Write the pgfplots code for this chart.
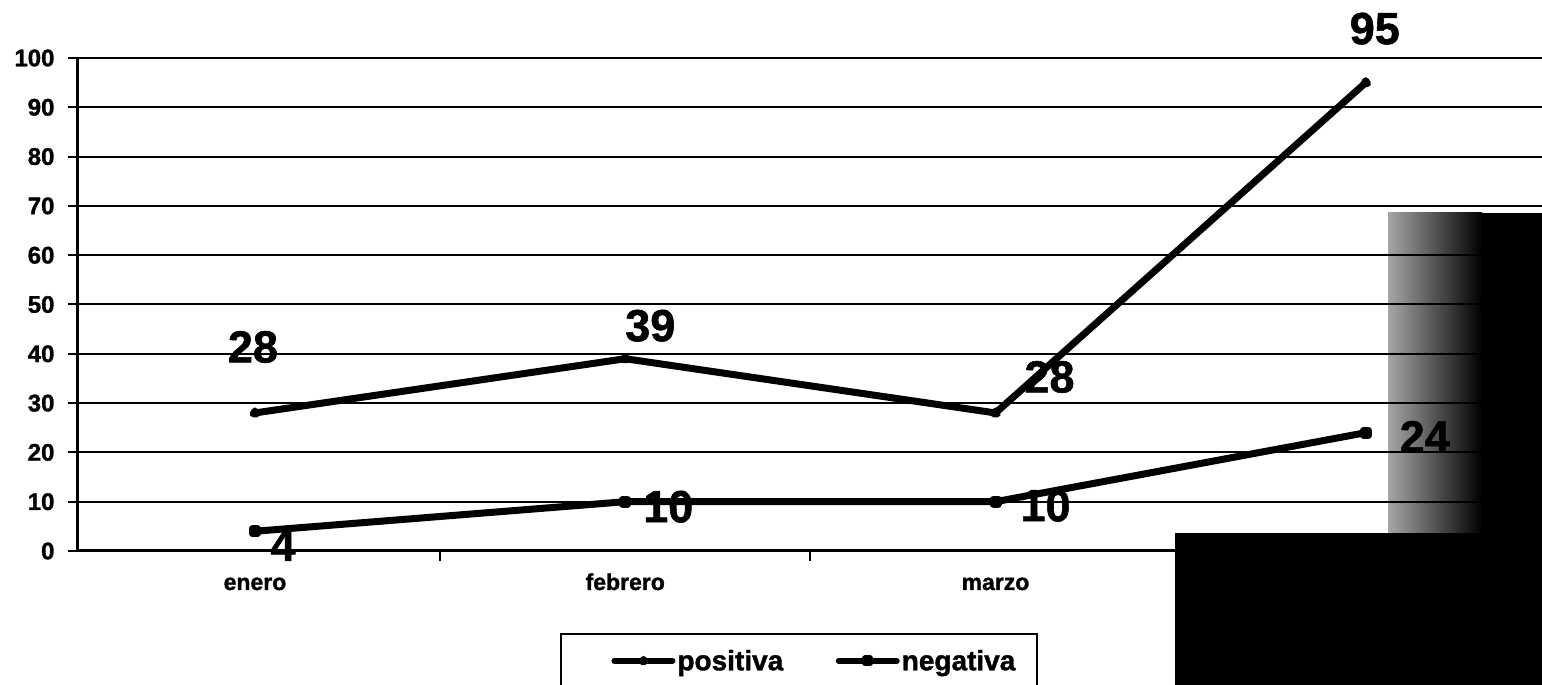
\documentclass[border=0pt]{standalone}
\usepackage{fontspec}
\setmainfont{Liberation Sans}[BoldFeatures={FakeBold=1.3}]
\usepackage{pgfplots}
\pgfplotsset{compat=1.18}
\usepackage{pgfplotstable}

\pgfplotstableread{
x y dx dy
0 28 -2 66
1 39 25 33
2 28 54 36
3 95 9 54
}\positiva
\pgfplotstableread{
x y dx dy
0 4 28 -14
1 10 43 -5
2 10 50 -4
3 24 59 -4
}\negativa

\begin{document}
\begin{tikzpicture}[x=1pt,y=1pt]
\useasboundingbox (0,0) rectangle (1542,685);
\shade[left color=black!35, right color=black] (1388,152) rectangle (1482,472);
\fill[black] (1481,152) rectangle (1542,472);
\begin{axis}[
  at={(78pt,134pt)}, anchor=south west,
  scale only axis, width=1464pt, height=493pt,
  xmin=-0.478, xmax=3.476, ymin=0, ymax=100,
  axis x line*=bottom, axis y line*=left,
  axis line style={line width=3pt, -},
  ytick={0,10,...,100},
  xtick={0.5,1.5,2.5}, xticklabels={,,},
  extra x ticks={0,1,2,3},
  extra x tick labels={enero,febrero,marzo,abril},
  extra x tick style={major tick length=0pt,
    xticklabel style={anchor=base, yshift=-39pt}},
  tick align=outside,
  major tick length=10pt,
  tick style={black, line width=2pt},
  ymajorgrids,
  grid style={black, line width=2pt},
  /pgf/number format/assume math mode=true,
  yticklabel style={font=\fontsize{24}{24}\selectfont\bfseries, xshift=-10pt},
  xticklabel style={font=\fontsize{23}{23}\selectfont\bfseries},
  legend style={at={(axis description cs:0.3292,-0.1663)}, anchor=north west,
    draw=black, line width=2pt, font=\fontsize{28}{28}\selectfont\bfseries,
    inner xsep=20pt, inner ysep=14pt,
    /tikz/every even column/.append style={column sep=20pt}},
  legend columns=2,
  legend image code/.code={\path (-30pt,0pt);\draw[mark repeat=2,mark phase=2,#1,line width=6pt] plot coordinates {(0pt,0pt) (29pt,0pt) (58pt,0pt)};},
  nodes near coords,
  nodes near coords style={anchor=center, xshift=\dx pt, yshift=\dy pt,
    font=\fontsize{45}{45}\selectfont\bfseries, text=black},
]
\addplot[black, line width=7pt, line join=round, line cap=round, mark=triangle*, mark size=2pt,
  point meta=\thisrow{y},
  visualization depends on={\thisrow{dx} \as \dx},
  visualization depends on={\thisrow{dy} \as \dy}] table[x=x,y=y] {\positiva};
\addlegendentry{positiva}
\addplot[black, line width=7pt, line join=round, line cap=round, mark=square*, mark size=2.5pt,
  point meta=\thisrow{y},
  visualization depends on={\thisrow{dx} \as \dx},
  visualization depends on={\thisrow{dy} \as \dy}] table[x=x,y=y] {\negativa};
\addlegendentry{negativa}
\end{axis}
\fill[black] (1175,0) rectangle (1542,152);
\end{tikzpicture}
\end{document}
